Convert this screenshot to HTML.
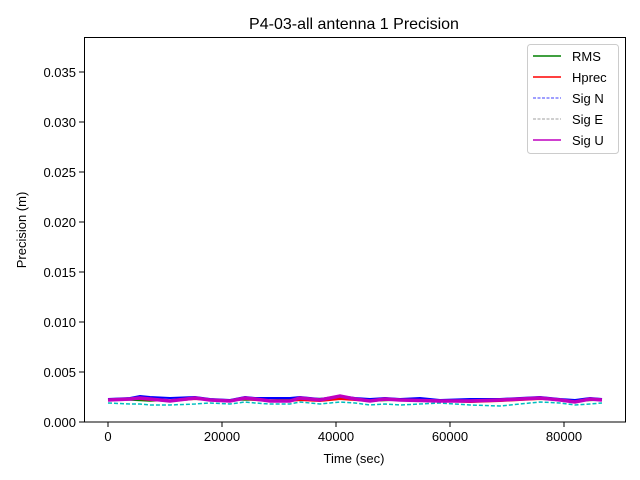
<!DOCTYPE html>
<html><head><style>
body{margin:0;background:#fff;}
svg{display:block;font-family:"Liberation Sans","DejaVu Sans",sans-serif;}
</style></head><body>
<svg width="640" height="480" viewBox="0 0 640 480">
<rect width="640" height="480" fill="#fff"/>
<text x="354" y="29" font-size="16" text-anchor="middle">P4-03-all antenna 1 Precision</text>
<g transform="translate(0,3)">
<polyline fill="none" stroke="#00bfbf" stroke-width="1.5" stroke-dasharray="4,2" points="108,400 130,401 140,401 150,402 170,402 195,401 210,400 230,401 245,399 255,400 270,401 290,401 300,399 320,401 340,399 355,400 370,402 385,401 400,402 440,400 470,402 500,403 520,401 540,399 560,400 575,402 590,401 602,400"/>
</g>
<polyline fill="none" stroke="#008000" stroke-width="1.5" points="108,400 130,400 150,401 195,399 230,400 270,400 300,399 340,398 370,401 400,400 440,401 470,401 500,400 540,399 575,401 602,400"/>
<polyline fill="none" stroke="#ff0000" stroke-width="2" points="108,400 130,399 140,399 150,400 170,401 195,399 210,400 230,401 245,399 255,400 270,401 290,401 300,400 320,401 340,399 355,400 370,401 385,400 400,400 440,401 470,402 500,401 520,400 540,399 560,400 575,401 590,400 602,400"/>
<polyline fill="none" stroke="#0000ff" stroke-width="2" points="108,399 130,398 140,396 150,397 170,398 195,397 210,399 230,400 245,397 255,398 270,398 290,398 300,397 320,399 340,396 355,398 370,399 385,398 400,399 420,398 440,400 470,399 500,399 520,398 540,397 560,399 575,400 590,398 602,399"/>
<polyline fill="none" stroke="#bf00bf" stroke-width="3.5" points="108,400 130,399 140,398 150,399 170,401 195,398 210,400 230,401 245,398 255,399 270,401 290,401 300,398 320,400 340,396 355,399 370,401 385,399 400,400 440,401 470,401 500,400 520,399 540,398 560,400 575,402 590,399 602,400"/>
<rect x="84.5" y="37.5" width="541" height="384.5" fill="none" stroke="#000" stroke-width="1"/>
<g font-size="13" text-anchor="end">
<line x1="79" x2="84" y1="422" y2="422" stroke="#000"/><text x="76" y="427">0.000</text>
<line x1="79" x2="84" y1="372" y2="372" stroke="#000"/><text x="76" y="377">0.005</text>
<line x1="79" x2="84" y1="322" y2="322" stroke="#000"/><text x="76" y="327">0.010</text>
<line x1="79" x2="84" y1="272" y2="272" stroke="#000"/><text x="76" y="277">0.015</text>
<line x1="79" x2="84" y1="222" y2="222" stroke="#000"/><text x="76" y="227">0.020</text>
<line x1="79" x2="84" y1="172" y2="172" stroke="#000"/><text x="76" y="177">0.025</text>
<line x1="79" x2="84" y1="122" y2="122" stroke="#000"/><text x="76" y="127">0.030</text>
<line x1="79" x2="84" y1="72" y2="72" stroke="#000"/><text x="76" y="77">0.035</text>
</g>
<g font-size="13" text-anchor="middle">
<line x1="108" x2="108" y1="422" y2="427" stroke="#000"/><text x="108" y="441">0</text>
<line x1="222" x2="222" y1="422" y2="427" stroke="#000"/><text x="222" y="441">20000</text>
<line x1="336" x2="336" y1="422" y2="427" stroke="#000"/><text x="336" y="441">40000</text>
<line x1="450" x2="450" y1="422" y2="427" stroke="#000"/><text x="450" y="441">60000</text>
<line x1="564" x2="564" y1="422" y2="427" stroke="#000"/><text x="564" y="441">80000</text>
<text x="354" y="463">Time (sec)</text>
<text transform="translate(26,230) rotate(-90)">Precision (m)</text>
</g>
<rect x="527.5" y="44.5" width="91" height="109" rx="3" fill="#fff" stroke="#ccc"/>
<g font-size="13">
<line x1="533" x2="561" y1="56" y2="56" stroke="#008000" stroke-width="1.5"/><text x="572" y="61">RMS</text>
<line x1="533" x2="561" y1="77" y2="77" stroke="#ff0000" stroke-width="1.5"/><text x="572" y="82">Hprec</text>
<line x1="533" x2="561" y1="98" y2="98" stroke="#0000ff" stroke-width="0.8" stroke-dasharray="3,1.5"/><text x="572" y="103">Sig N</text>
<line x1="533" x2="561" y1="119" y2="119" stroke="#808080" stroke-width="0.8" stroke-dasharray="3,1.5"/><text x="572" y="124">Sig E</text>
<line x1="533" x2="561" y1="140" y2="140" stroke="#bf00bf" stroke-width="1.5"/><text x="572" y="145">Sig U</text>
</g>
</svg>
</body></html>
